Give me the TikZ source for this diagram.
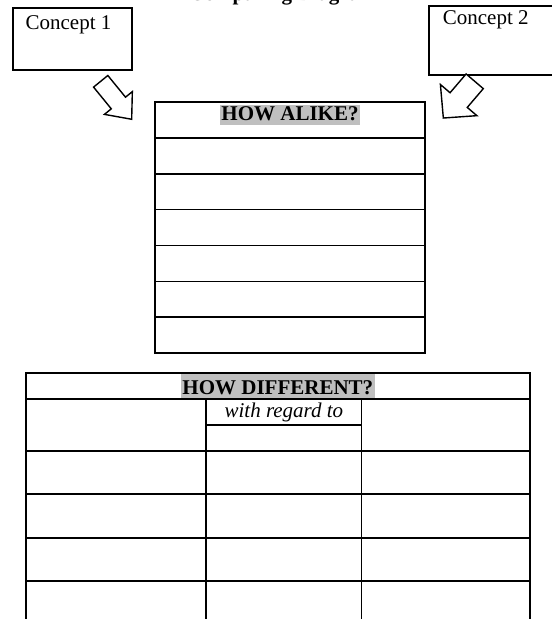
\documentclass[tikz,border=0pt]{standalone}
\usepackage{fontspec}
\setmainfont{Liberation Serif}
\usetikzlibrary{calc, positioning}
\tikzset{
  box/.style={
    rectangle, draw=black, line width=1.8pt,
    outer sep=0pt, inner sep=0pt
  },
  txt/.style  = {font=\fontsize{21}{25}\selectfont, inner sep=0pt},
  hilite/.style = {
    font=\fontsize{21}{25}\selectfont\bfseries,
    fill=gray!50, inner xsep=1.5pt, inner ysep=0pt
  },
  alikerow/.style = {box, minimum width=270pt, minimum height=35.93pt},
  blockarr/.style = {draw=black, line width=1.4pt, fill=white},
}

\begin{document}
\begin{tikzpicture}[x=1pt, y=-1pt]
\useasboundingbox (0,0) rectangle (552,619);

%% -- Title (cut off at the top edge) ----------------------------------------
\node[txt, font=\fontsize{21}{25}\selectfont\bfseries, anchor=base] (title) at (283,0.5) {Comparing Diagram};

%% -- Concept boxes -----------------------------------------------------------
\node[box, anchor=north west, minimum width=119.6pt, minimum height=61.7pt] (c1) at (12.7,8.3) {};
\node[box, anchor=north west, minimum width=130pt, minimum height=69pt] (c2) at (429.3,6) {};
\node[txt, anchor=base west] (c1lbl) at ($(c1.north west)+(12.7,21)$) {Concept 1};
\node[txt, anchor=base west] (c2lbl) at ($(c2.north west)+(13.4,18)$) {Concept 2};

%% -- Block arrows ------------------------------------------------------------
\draw[blockarr, shift={(100.7,81.3)}, rotate=-50.8]
  (0,-9.2) -- (28,-9.2) -- (28,-18) -- (49,0) -- (28,18) -- (28,9.2) -- (0,9.2) -- cycle;
\draw[blockarr, shift={(474.7,81.3)}, rotate=-130.5]
  (0,-11.3) -- (24.7,-11.3) -- (24.7,-24) -- (48.3,0) -- (24.7,24) -- (24.7,11.3) -- (0,11.3) -- cycle;

%% -- HOW ALIKE? table --------------------------------------------------------
\node[box, anchor=north west, minimum width=270pt, minimum height=36pt] (alike0) at (155,101.7) {};
\foreach \i [remember=\i as \prev (initially 0)] in {1,...,6}
  \node[alikerow, below=0pt of alike\prev] (alike\i) {};
\node[hilite, text height=15.7pt, text depth=4.3pt, anchor=base] (aliketitle)
  at ($(alike0.north)+(0,19)$) {HOW ALIKE?};

%% -- HOW DIFFERENT? table ----------------------------------------------------
\node[box, anchor=north west, minimum width=503.7pt, minimum height=25.4pt] (diff0) at (26,373.3) {};
\node[hilite, text height=20pt, text depth=3.4pt, anchor=base] (difftitle)
  at ($(diff0.north)+(0,21)$) {HOW DIFFERENT?};

% first row: middle cell split in two
\node[box, anchor=north west, minimum width=180.3pt, minimum height=52pt] (d1-a) at (diff0.south west) {};
\node[box, txt, anchor=north west, minimum width=155.2pt, minimum height=26.6pt] (regard)
  at (d1-a.north east) {\textit{with regard to}};
\node[box, anchor=north west, minimum width=155.2pt, minimum height=25.4pt] (d1-b) at (regard.south west) {};
\node[box, anchor=north west, minimum width=168.2pt, minimum height=52pt] (d1-c) at (regard.north east) {};

% remaining rows
\foreach \r [remember=\r as \q (initially 1)] in {2,...,5} {
  \node[box, anchor=north west, minimum width=180.3pt, minimum height=43.5pt] (d\r-a) at (d\q-a.south west) {};
  \node[box, anchor=north west, minimum width=155.2pt, minimum height=43.5pt] (d\r-b) at (d\r-a.north east) {};
  \node[box, anchor=north west, minimum width=168.2pt, minimum height=43.5pt] (d\r-c) at (d\r-b.north east) {};
}

\end{tikzpicture}
\end{document}
